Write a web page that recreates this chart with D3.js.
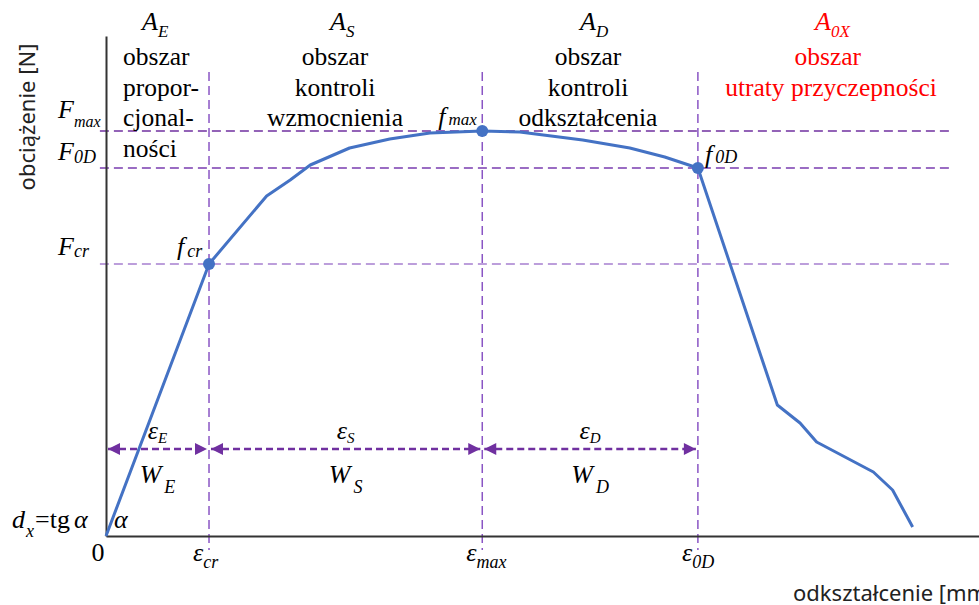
<!DOCTYPE html>
<html>
<head>
<meta charset="utf-8">
<script src="https://cdn.jsdelivr.net/npm/d3@7"></script>
<style>
  body { margin: 0; background: #fff; }
  svg { display: block; }
  text { font-family: "Liberation Serif", "Times New Roman", serif; fill: #000; }
  .sans { font-family: "Noto Sans", "Open Sans", sans-serif; }
</style>
</head>
<body>
<div id="chart"></div>
<script>
// krzywa obciazenie - odksztalcenie (jednostki umowne)
const curveX = [0, 11.8, 18.4, 21.1, 23.4, 27.9, 32.5, 37.1, 43.1, 47.4, 54.6, 60.0, 64.0, 67.8, 76.9, 79.5, 81.4, 87.9, 90.1, 92.4];
const curveY = [0, 54.4, 68.0, 71.2, 74.2, 77.6, 79.4, 80.6, 81.0, 80.8, 79.2, 77.6, 75.8, 73.6, 26.2, 22.6, 18.8, 12.8, 9.2, 1.8];

// punkty charakterystyczne
const pointKeys = ["cr", "max", "0D"];
const pointStrain = [11.8, 43.1, 67.8];
const pointForce = [54.4, 81.0, 73.6];

// obszary
const regionKeys = ["E", "S", "D", "0X"];
const regionLines = [
    ["obszar", "propor-", "cjonal-", "ności"],
    ["obszar", "kontroli", "wzmocnienia"],
    ["obszar", "kontroli", "odkształcenia"],
    ["obszar ", "utraty przyczepności"]
];
const regionColors = ["#000", "#000", "#000", "#ff0000"];
const rangeKeys = ["E", "S", "D"];

const yTitle = "obciążenie [N]";
const xTitle = "odkształcenie [mm]";

const width = 979, height = 605;
const blue = "#4472c4", purple = "#7030a0";

const svg = d3.select("#chart").append("svg")
    .attr("width", width).attr("height", height);

const x = d3.scaleLinear().domain([0, 100]).range([106, 979]);
const y = d3.scaleLinear().domain([0, 100]).range([536, 36]);

// etykieta z indeksem dolnym
function label(g, px, py, main, sub, o) {
    o = Object.assign({size: 25, subSize: 17, dy: 7, italic: true, subItalic: true, anchor: "start", color: "#000"}, o || {});
    let t = g.append("text").attr("x", px).attr("y", py)
        .attr("text-anchor", o.anchor).style("fill", o.color);
    t.append("tspan").text(main)
        .style("font-size", o.size + "px")
        .style("font-style", o.italic ? "italic" : "normal");
    if (sub) {
        t.append("tspan").text(sub)
            .attr("dy", o.dy)
            .attr("dx", o.dx || 0)
            .style("font-size", o.subSize + "px")
            .style("font-style", o.subItalic ? "italic" : "normal");
    }
    return t;
}

// linie pomocnicze poziome
const hColors = ["#a77fd0", "#7030a0", "#7a3cb0"];
pointKeys.forEach((k, i) => {
    svg.append("line")
        .attr("x1", x(-0.7)).attr("x2", x(96.7))
        .attr("y1", y(pointForce[i])).attr("y2", y(pointForce[i]))
        .attr("stroke", hColors[i]).attr("stroke-width", 1.5)
        .attr("stroke-dasharray", "9,5");
});

// linie pomocnicze pionowe
pointKeys.forEach((k, i) => {
    svg.append("line")
        .attr("x1", x(pointStrain[i])).attr("x2", x(pointStrain[i]))
        .attr("y1", y(92.8)).attr("y2", y(-2.8))
        .attr("stroke", "#8a55c4").attr("stroke-width", 1.5)
        .attr("stroke-dasharray", "9,5");
});

// osie
svg.append("g")
    .attr("transform", `translate(0,${y(0)})`)
    .call(d3.axisBottom(x).tickValues([]).tickSizeOuter(0))
    .select(".domain").attr("stroke", "#333").attr("stroke-width", 2);
svg.append("g")
    .attr("transform", `translate(${x(0)},0)`)
    .call(d3.axisLeft(y).tickValues([]).tickSizeOuter(0))
    .select(".domain").attr("stroke", "#333").attr("stroke-width", 2);

// strzalki zakresow
const defs = svg.append("defs");
defs.append("marker")
    .attr("id", "arrow")
    .attr("viewBox", "0 0 12 12")
    .attr("refX", 12).attr("refY", 6)
    .attr("markerWidth", 13).attr("markerHeight", 12)
    .attr("markerUnits", "userSpaceOnUse")
    .attr("orient", "auto-start-reverse")
    .append("path").attr("d", "M0,0L12,6L0,12Z").attr("fill", purple);

const bounds = [0].concat(pointStrain);
const arrowY = 17.4;
rangeKeys.forEach((k, i) => {
    let x1 = x(bounds[i]) + 2, x2 = x(bounds[i + 1]) - 2;
    svg.append("line")
        .attr("x1", x1).attr("x2", x2)
        .attr("y1", y(arrowY)).attr("y2", y(arrowY))
        .attr("stroke", purple).attr("stroke-width", 2.5)
        .attr("stroke-dasharray", "7,4")
        .attr("marker-start", "url(#arrow)")
        .attr("marker-end", "url(#arrow)");
    let cx = (x1 + x2) / 2;
    label(svg, cx, y(arrowY) - 10, "ε", k, {size: 26, subSize: 15, dy: 4, anchor: "middle"});
    label(svg, cx, y(arrowY) + 34, "W", k, {size: 26, subSize: 18, dy: 10, dx: 3, anchor: "middle"});
});

// krzywa
const pts = curveX.map((v, i) => [v, curveY[i]]);
svg.append("path")
    .datum(pts)
    .attr("fill", "none")
    .attr("stroke", blue)
    .attr("stroke-width", 3)
    .attr("stroke-linejoin", "round")
    .attr("d", d3.line().x(d => x(d[0])).y(d => y(d[1])));

// punkty charakterystyczne
svg.selectAll(".pt")
    .data(pointKeys)
    .join("circle")
    .attr("class", "pt")
    .attr("cx", (d, i) => x(pointStrain[i]))
    .attr("cy", (d, i) => y(pointForce[i]))
    .attr("r", 6)
    .attr("fill", blue);

// etykiety osi Y (F)
const fLabelOffset = [9, 13, 8];
const fSubSize = [18, 16, 18];
const fSubDy = [2, 9, 3];
pointKeys.forEach((k, i) => {
    label(svg, 58, y(pointForce[i]) - fLabelOffset[i], "F", k, {size: 26, subSize: fSubSize[i], dy: fSubDy[i]});
});

// etykiety punktow (f)
label(svg, x(pointStrain[0]) - 32, y(pointForce[0]) - 9, "f", "cr", {size: 26, subSize: 18, dy: 2, dx: 3});
label(svg, x(pointStrain[1]) - 44, y(pointForce[1]) - 6, "f", "max", {size: 26, subSize: 17, dy: 0, dx: 3});
label(svg, x(pointStrain[2]) + 7, y(pointForce[2]) - 5, "f", "0D", {size: 26, subSize: 18, dy: 0, dx: 3});

// etykiety osi X (epsilon)
pointKeys.forEach((k, i) => {
    label(svg, x(pointStrain[i]) - 16, 561, "ε", k, {size: 26, subSize: 18, dy: 7});
});
svg.append("text").attr("x", 98).attr("y", 561).attr("text-anchor", "middle")
    .style("font-size", "26px").text("0");

// d_x = tg alfa
let dt = label(svg, 12, 528, "d", "x", {size: 26, subSize: 18, dy: 9, dx: 1});
dt.append("tspan").attr("dy", -9).attr("dx", 1).style("font-size", "26px").text("=tg");
dt.append("tspan").attr("dx", 4).style("font-size", "26px").style("font-style", "italic").text("α");
svg.append("text").attr("x", 114).attr("y", 528)
    .style("font-size", "26px").style("font-style", "italic").text("α");

// naglowki obszarow
const regionX = [123, 335, 588, 831];
const regionAX = [142, 330, 580, 815];
const regionAnchor = ["start", "middle", "middle", "middle"];
regionKeys.forEach((k, i) => {
    label(svg, regionAX[i], 30, "A", k, {size: 26, subSize: 17, dy: 7, color: regionColors[i]});
    regionLines[i].forEach((line, j) => {
        svg.append("text")
            .attr("x", regionX[i]).attr("y", 65 + j * 30.5)
            .attr("text-anchor", regionAnchor[i])
            .attr("xml:space", "preserve")
            .style("font-size", "25.5px")
            .style("fill", regionColors[i])
            .text(line);
    });
});

// tytuly osi
svg.append("text").attr("class", "sans")
    .attr("transform", "translate(35,117) rotate(-90)")
    .attr("text-anchor", "middle")
    .style("font-size", "22px").style("fill", "#222")
    .text(yTitle);
svg.append("text").attr("class", "sans")
    .attr("x", 793).attr("y", 601)
    .style("font-size", "22px").style("fill", "#222")
    .text(xTitle);
</script>
</body>
</html>
